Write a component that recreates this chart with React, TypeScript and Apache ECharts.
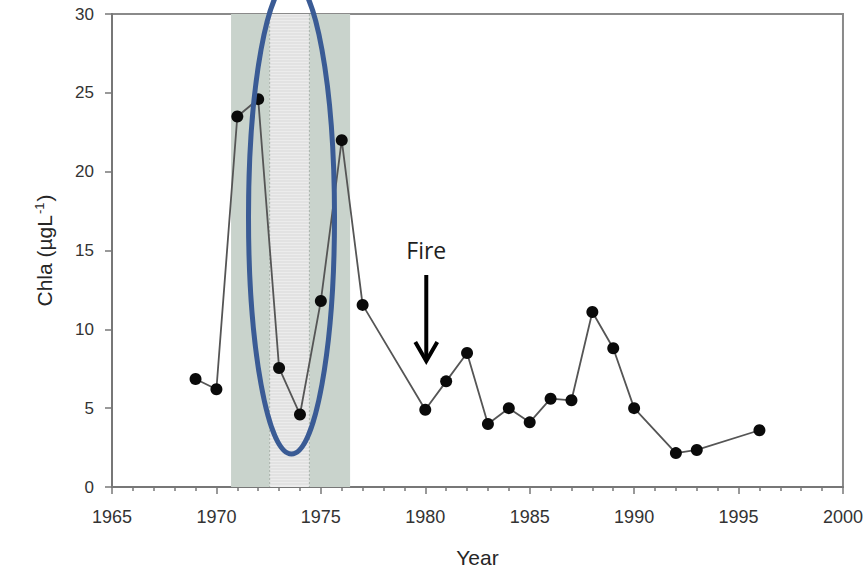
import React, { useEffect, useRef } from "react";
import * as echarts from "echarts";

// Sampling years and chlorophyll-a concentrations (µg/L)
const years = [
  1969, 1970, 1971, 1972, 1973, 1974, 1975, 1976, 1977, 1980, 1981, 1982,
  1983, 1984, 1985, 1986, 1987, 1988, 1989, 1990, 1992, 1993, 1996,
];
const chla = [
  6.85, 6.2, 23.5, 24.6, 7.55, 4.6, 11.8, 22.0, 11.55, 4.9, 6.7, 8.5,
  4.0, 5.0, 4.1, 5.6, 5.5, 11.1, 8.8, 5.0, 2.15, 2.35, 3.6,
];

// Shaded period (outer band) and the hatched core inside it, in years
const outerBand = [1970.7, 1976.4];
const innerBand = [1972.55, 1974.45];

// Axis ranges and tick steps
const xRange = [1965, 2000];
const yRange = [0, 30];
const xStep = 5;
const yStep = 5;

const fireYear = 1980;
const fireLabel = "Fire";

export default function App() {
  const ref = useRef<HTMLDivElement>(null);

  useEffect(() => {
    if (!ref.current) return;
    const chart = echarts.init(ref.current, undefined, { renderer: "svg" });

    const axisGray = "#777777";
    const labelColor = "#333333";

    chart.setOption({
      animation: false,
      backgroundColor: "#ffffff",
      grid: {
        left: 112,
        right: 23,
        top: 14,
        bottom: 89,
        show: true,
        borderColor: "#8a8a8a",
        borderWidth: 2,
        backgroundColor: "transparent",
      },
      xAxis: {
        type: "value",
        min: xRange[0],
        max: xRange[1],
        interval: xStep,
        name: "Year",
        nameLocation: "middle",
        nameGap: 60,
        nameTextStyle: {
          fontFamily: "Liberation Sans",
          fontSize: 21,
          color: "#262626",
        },
        axisLine: { show: true, lineStyle: { color: axisGray, width: 2 } },
        axisTick: { show: true, length: 7, lineStyle: { color: axisGray, width: 1.5 } },
        minorTick: {
          show: true,
          splitNumber: 5,
          length: 4,
          lineStyle: { color: axisGray, width: 1.5 },
        },
        splitLine: { show: false },
        axisLabel: {
          margin: 21,
          fontFamily: "Liberation Sans",
          fontSize: 18,
          color: labelColor,
          formatter: (v: number) => String(v),
        },
      },
      yAxis: {
        type: "value",
        min: yRange[0],
        max: yRange[1],
        interval: yStep,
        name: "Chla (µgL{sup|-1})",
        nameLocation: "middle",
        nameGap: 56,
        nameTextStyle: {
          fontFamily: "Liberation Sans",
          fontSize: 21,
          color: "#262626",
          rich: {
            sup: {
              fontFamily: "Liberation Sans",
              fontSize: 13,
              color: "#262626",
              padding: [0, 1, 10, 1],
            },
          },
        },
        axisLine: { show: true, lineStyle: { color: axisGray, width: 2 } },
        axisTick: { show: true, length: 7, lineStyle: { color: axisGray, width: 1.5 } },
        splitLine: { show: false },
        axisLabel: {
          margin: 18,
          fontFamily: "Liberation Sans",
          fontSize: 17,
          color: labelColor,
        },
      },
      series: [
        {
          type: "custom",
          z: 1,
          silent: true,
          clip: true,
          data: [[outerBand[0], outerBand[1], innerBand[0], innerBand[1]]],
          renderItem: (params: any, api: any) => {
            const cs = params.coordSys;
            const top = cs.y;
            const bottom = cs.y + cs.height;
            const ox0 = api.coord([api.value(0), 0])[0];
            const ox1 = api.coord([api.value(1), 0])[0];
            const ix0 = api.coord([api.value(2), 0])[0];
            const ix1 = api.coord([api.value(3), 0])[0];
            const children: any[] = [
              {
                type: "rect",
                shape: { x: ox0, y: top, width: ox1 - ox0, height: bottom - top },
                style: { fill: "#c9d3cc" },
              },
              {
                type: "rect",
                shape: { x: ix0, y: top, width: ix1 - ix0, height: bottom - top },
                style: { fill: "#ececec" },
              },
            ];
            for (let y = top + 2; y < bottom; y += 3) {
              children.push({
                type: "line",
                shape: { x1: ix0, y1: y, x2: ix1, y2: y },
                style: { stroke: "#d8d8d8", lineWidth: 1 },
              });
            }
            [ix0, ix1].forEach((x) =>
              children.push({
                type: "line",
                shape: { x1: x, y1: top, x2: x, y2: bottom },
                style: { stroke: "#a9b2ab", lineWidth: 1, lineDash: [2, 2] },
              })
            );
            return { type: "group", children };
          },
        },
        {
          type: "line",
          z: 3,
          data: years.map((y, i) => [y, chla[i]]),
          symbol: "circle",
          symbolSize: 12,
          itemStyle: { color: "#0a0a0a" },
          lineStyle: { color: "#555555", width: 1.8 },
        },
      ],
    });

    // Annotation: "Fire" label with downward arrow, and the highlight ellipse
    const fx = chart.convertToPixel({ gridIndex: 0 }, [fireYear, 0])[0];
    chart.setOption({
      graphic: [
        {
          type: "text",
          x: fx + 1,
          y: 250,
          style: {
            text: fireLabel,
            fontFamily: "Open Sans",
            fontSize: 23,
            fill: "#1e1e1e",
            align: "center",
            verticalAlign: "middle",
          },
        },
        {
          type: "line",
          shape: { x1: fx + 1, y1: 275, x2: fx + 1, y2: 360 },
          style: { stroke: "#000", lineWidth: 4 },
        },
        {
          type: "polyline",
          shape: {
            points: [
              [fx - 10, 342],
              [fx + 1, 361],
              [fx + 12, 342],
            ],
          },
          style: { stroke: "#000", lineWidth: 4, fill: "none" },
        },
        {
          type: "ellipse",
          z: 10,
          shape: { cx: 291.5, cy: 217, rx: 43, ry: 237 },
          style: { fill: "none", stroke: "#3a5b95", lineWidth: 5 },
        },
      ],
    });

    return () => chart.dispose();
  }, []);

  return (
    <div
      ref={ref}
      style={{ position: "fixed", left: 0, top: 0, width: 866, height: 576 }}
    />
  );
}
